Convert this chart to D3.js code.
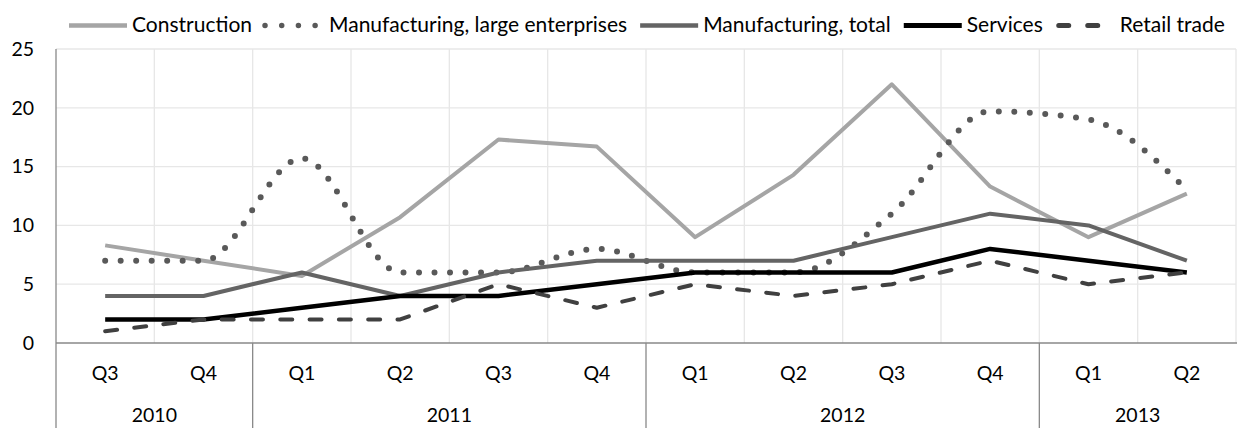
<!DOCTYPE html>
<html>
<head>
<meta charset="utf-8">
<script src="https://cdn.jsdelivr.net/npm/d3@7"></script>
<style>
  html, body { margin: 0; padding: 0; background: #fff; }
  svg { display: block; }
  text { font-family: "Lato", "Open Sans", sans-serif; fill: #000; }
</style>
</head>
<body>
<svg id="chart" width="1237" height="428"></svg>
<script>
// ---- data ----
const quarters = ["Q3","Q4","Q1","Q2","Q3","Q4","Q1","Q2","Q3","Q4","Q1","Q2"];
const years = ["2010","2011","2012","2013"];
const yearSpans = [2, 4, 4, 2];
const yTicks = [0, 5, 10, 15, 20, 25];
const seriesNames = ["Construction","Manufacturing, large enterprises","Manufacturing, total","Services","Retail trade"];
const construction = [8.3, 7.0, 5.7, 10.7, 17.3, 16.7, 9.0, 14.3, 22.0, 13.3, 9.0, 12.7];
const mfgLarge     = [7, 7, 15.7, 6, 6, 8, 6, 6, 11, 19.7, 19, 13];
const mfgTotal     = [4, 4, 6, 4, 6, 7, 7, 7, 9, 11, 10, 7];
const services     = [2, 2, 3, 4, 4, 5, 6, 6, 6, 8, 7, 6];
const retail       = [1, 2, 2, 2, 5, 3, 5, 4, 5, 7, 5, 6];

(function () {
// ---- styles ----
const styles = [
  {color: "#a5a5a5", width: 4, kind: "solid", curve: d3.curveLinear},
  {color: "#595959", width: 6, kind: "dot", curve: d3.curveMonotoneX},
  {color: "#646464", width: 4, kind: "solid", curve: d3.curveLinear},
  {color: "#000000", width: 4.5, kind: "solid", curve: d3.curveLinear},
  {color: "#404040", width: 4, kind: "dash", curve: d3.curveLinear}
];
const seriesData = [construction, mfgLarge, mfgTotal, services, retail];
const dashFor = k => k === "dot" ? "0 15.5" : (k === "dash" ? "12 17.3" : null);
const capFor = k => k === "solid" ? "butt" : "round";

const svg = d3.select("#chart");
const pLeft = 56, pRight = 1236, pTop = 49, pBottom = 343, axisBottom = 428;
const axisFont = 19.5, legendFont = 21;

const x = d3.scaleBand().domain(d3.range(quarters.length)).range([pLeft, pRight]).padding(0);
const y = d3.scaleLinear().domain([0, 25]).range([pBottom, pTop]);
const bw = x.bandwidth();

// gridlines horizontal
svg.append("g")
  .selectAll("line").data(yTicks.filter(d => d > 0)).join("line")
  .attr("x1", pLeft).attr("x2", pRight)
  .attr("y1", d => y(d)).attr("y2", d => y(d))
  .attr("stroke", "#e7e7e7").attr("stroke-width", 1.3);

// gridlines vertical (category boundaries)
svg.append("g")
  .selectAll("line").data(d3.range(1, quarters.length + 1)).join("line")
  .attr("x1", d => pLeft + d * bw).attr("x2", d => pLeft + d * bw)
  .attr("y1", pTop).attr("y2", pBottom)
  .attr("stroke", "#e7e7e7").attr("stroke-width", 1.3);

// y axis labels
const yAxis = d3.axisLeft(y).tickValues(yTicks).tickSize(0).tickPadding(22);
const gy = svg.append("g").attr("transform", `translate(${pLeft},0)`).call(yAxis);
gy.select(".domain").remove();
gy.selectAll("text").attr("font-size", axisFont).attr("font-family", "Lato, 'Open Sans', sans-serif").attr("fill", "#000");

// x axis (quarters)
const xAxis = d3.axisBottom(x).tickFormat(i => quarters[i]).tickSize(0).tickPadding(0);
const gx = svg.append("g").attr("transform", `translate(0,${pBottom})`).call(xAxis);
gx.select(".domain").remove();
gx.selectAll("text").attr("font-size", axisFont).attr("dy", null).attr("y", 37)
  .attr("font-family", "Lato, 'Open Sans', sans-serif").attr("fill", "#000");

// year axis
const yearStarts = yearSpans.map((s, i) => d3.sum(yearSpans.slice(0, i)));
svg.append("g").selectAll("text").data(years).join("text")
  .attr("x", (d, i) => pLeft + (yearStarts[i] + yearSpans[i] / 2) * bw)
  .attr("y", 422)
  .attr("text-anchor", "middle").attr("font-size", axisFont)
  .text(d => d);

// axis lines
svg.append("line").attr("x1", pLeft).attr("x2", pRight + 1).attr("y1", pBottom).attr("y2", pBottom)
  .attr("stroke", "#898989").attr("stroke-width", 1.3);
svg.append("line").attr("x1", pLeft).attr("x2", pLeft).attr("y1", pTop).attr("y2", axisBottom)
  .attr("stroke", "#898989").attr("stroke-width", 1.3);
svg.append("g").selectAll("line").data(yearStarts.slice(1)).join("line")
  .attr("x1", d => pLeft + d * bw).attr("x2", d => pLeft + d * bw)
  .attr("y1", pBottom).attr("y2", axisBottom)
  .attr("stroke", "#898989").attr("stroke-width", 1.3);

// series lines
seriesData.forEach((data, si) => {
  const st = styles[si];
  const line = d3.line().x((d, i) => x(i) + bw / 2).y(d => y(d)).curve(st.curve);
  svg.append("path").datum(data)
    .attr("d", line)
    .attr("fill", "none")
    .attr("stroke", st.color)
    .attr("stroke-width", st.width)
    .attr("stroke-linecap", capFor(st.kind))
    .attr("stroke-linejoin", "round")
    .attr("stroke-dasharray", dashFor(st.kind));
});

// legend
const lg = svg.append("g");
let lx = 69;
const ly = 25.5;
seriesNames.forEach((name, i) => {
  const st = styles[i];
  if (st.kind === "solid") {
    lg.append("line").attr("x1", lx).attr("x2", lx + 58).attr("y1", ly).attr("y2", ly)
      .attr("stroke", st.color).attr("stroke-width", st.width + 0.5);
  } else if (st.kind === "dot") {
    lg.append("line").attr("x1", lx).attr("x2", lx + 51).attr("y1", ly).attr("y2", ly)
      .attr("stroke", st.color).attr("stroke-width", 5.5)
      .attr("stroke-linecap", "round").attr("stroke-dasharray", "0 16.7");
  } else {
    lg.append("line").attr("x1", lx + 3).attr("x2", lx + 47).attr("y1", ly).attr("y2", ly)
      .attr("stroke", st.color).attr("stroke-width", 5)
      .attr("stroke-linecap", "round").attr("stroke-dasharray", "10 19");
  }
  const tx = lx + (st.kind === "solid" ? 63 : 64);
  const t = lg.append("text").attr("x", tx).attr("y", 32).attr("font-size", legendFont).text(name);
  lx = tx + t.node().getComputedTextLength() + 13;
});
})();
</script>
</body>
</html>
